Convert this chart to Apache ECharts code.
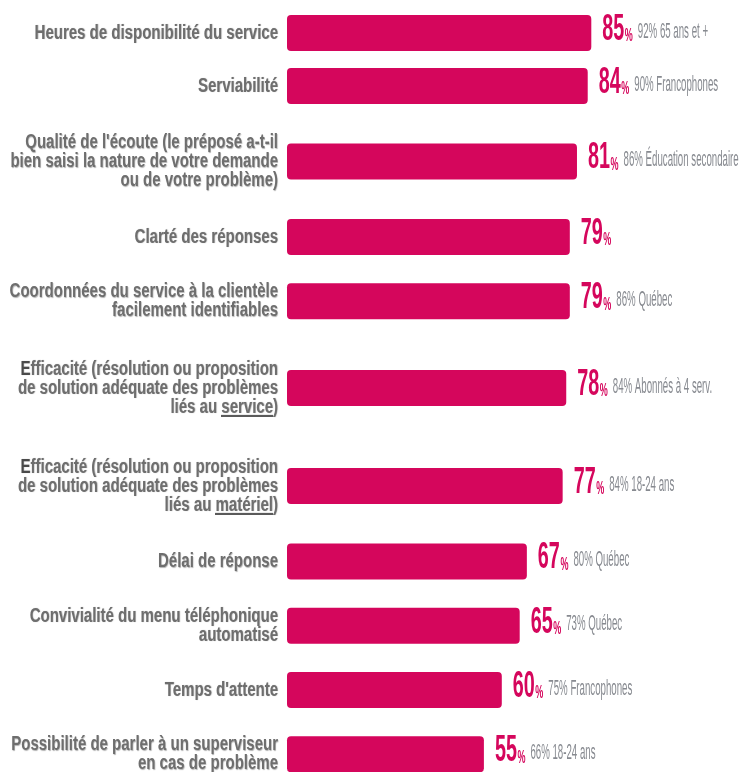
<!DOCTYPE html>
<html>
<head>
<meta charset="utf-8">
<script src="https://cdn.jsdelivr.net/npm/echarts@6/dist/echarts.min.js"></script>
<style>
  html, body { margin: 0; padding: 0; background: #ffffff; }
  #chart { width: 739px; height: 772px; }
</style>
</head>
<body>
<div id="chart"></div>
<script>
// Satisfaction criteria (one per row, line breaks as laid out)
const categories = [
  "Heures de disponibilité du service",
  "Serviabilité",
  "Qualité de l'écoute (le préposé a-t-il\nbien saisi la nature de votre demande\nou de votre problème)",
  "Clarté des réponses",
  "Coordonnées du service à la clientèle\nfacilement identifiables",
  "Efficacité (résolution ou proposition\nde solution adéquate des problèmes\nliés au service)",
  "Efficacité (résolution ou proposition\nde solution adéquate des problèmes\nliés au matériel)",
  "Délai de réponse",
  "Convivialité du menu téléphonique\nautomatisé",
  "Temps d'attente",
  "Possibilité de parler à un superviseur\nen cas de problème"
];

// Overall satisfaction (%)
const scores = [85, 84, 81, 79, 79, 78, 77, 67, 65, 60, 55];

// Highest-scoring subgroup for each criterion
const subgroupNotes = [
  "92% 65 ans et +",
  "90% Francophones",
  "86% Éducation secondaire",
  "",
  "86% Québec",
  "84% Abonnés à 4 serv.",
  "84% 18-24 ans",
  "80% Québec",
  "73% Québec",
  "75% Francophones",
  "66% 18-24 ans"
];

// Word to underline in a criterion label
const underlinedWords = ["", "", "", "", "", "service", "matériel", "", "", "", ""];

const BAR_COLOR = "#d5065c";
const LABEL_COLOR = "#6e6e6e";
const NOTE_COLOR = "#878a90";
const FAMILY = '"Liberation Sans", Arial, sans-serif';

// Row layout: each row grows with the number of label lines
const FIRST_ROW_TOP = 6.5;
const ROW_BASE = 30.5;
const ROW_PER_LINE = 22.5;
const BAR_THICKNESS = 36;
const LABEL_LINE_HEIGHT = 19;

const measureCtx = document.createElement("canvas").getContext("2d");
function textWidth(str, font) {
  measureCtx.font = font;
  return measureCtx.measureText(str).width;
}

// Small image used as the background of underlined words
const underlineImg = document.createElement("canvas");
underlineImg.width = 8;
underlineImg.height = LABEL_LINE_HEIGHT;
(function () {
  const c = underlineImg.getContext("2d");
  c.fillStyle = "#5a5a5a";
  c.fillRect(0, LABEL_LINE_HEIGHT - 2, 8, 2);
})();

const LABEL_FONT = 'bold 20px ' + FAMILY;
const LABEL_SCALE = 0.75;
const NUM_FONT = 'bold 36px ' + FAMILY;
const NUM_SCALE = 0.55;
const PCT_FONT = 'bold 18px ' + FAMILY;
const PCT_SCALE = 0.5;
const NOTE_FONT = '22px ' + FAMILY;
const NOTE_SCALE = 0.44;

const labelShadow = {
  textShadowColor: "rgba(0,0,0,0.3)",
  textShadowBlur: 1,
  textShadowOffsetX: 0.6,
  textShadowOffsetY: 0.6
};

function labelText(row) {
  let out = categories[row];
  const w = underlinedWords[row];
  if (w) {
    const idx = out.lastIndexOf(w);
    out = out.slice(0, idx) + "{u|" + w + "}" + out.slice(idx + w.length);
  }
  if (out.startsWith("Efficacité")) {
    out = "{d|E}" + out.slice(1);
  }
  return out;
}

function makeRowRenderer(row) {
  return function (params, api) {
    const v = api.value(0);
    const start = api.coord([0, 0]);
    const end = api.coord([v, 0]);
    const y = end[1];

    // criterion label, right-aligned against the bar start
    const label = {
      type: "text", x: start[0] - 9, y: y, scaleX: LABEL_SCALE,
      style: Object.assign({
        text: labelText(row), font: LABEL_FONT, fill: LABEL_COLOR,
        lineHeight: LABEL_LINE_HEIGHT, align: "right", verticalAlign: "middle",
        rich: {
          u: Object.assign({ font: LABEL_FONT, fill: LABEL_COLOR, lineHeight: LABEL_LINE_HEIGHT,
                             backgroundColor: { image: underlineImg } }, labelShadow),
          d: Object.assign({ font: LABEL_FONT, fill: "#4a4a4a", lineHeight: LABEL_LINE_HEIGHT }, labelShadow)
        }
      }, labelShadow)
    };

    // value: big number, small percent sign, then subgroup note
    const numText = String(v);
    const x0 = end[0] + 11;
    const numW = textWidth(numText, NUM_FONT) * NUM_SCALE;
    const pctX = x0 + numW + 0.5;
    const pctW = textWidth("%", PCT_FONT) * PCT_SCALE;
    const noteX = pctX + pctW + 5;
    const children = [
      label,
      {
        type: "text", x: x0, y: y - 3, scaleX: NUM_SCALE,
        style: { text: numText, font: NUM_FONT, fill: BAR_COLOR, align: "left", verticalAlign: "middle" }
      },
      {
        type: "text", x: pctX, y: y + 3.5, scaleX: PCT_SCALE,
        style: { text: "%", font: PCT_FONT, fill: BAR_COLOR, align: "left", verticalAlign: "middle" }
      }
    ];
    if (subgroupNotes[row]) {
      children.push({
        type: "text", x: noteX, y: y - 1.5, scaleX: NOTE_SCALE,
        style: { text: subgroupNotes[row], font: NOTE_FONT, fill: NOTE_COLOR, align: "left", verticalAlign: "middle" }
      });
    }
    return { type: "group", children: children };
  };
}

const grids = [], xAxes = [], yAxes = [], series = [];
let rowCursor = FIRST_ROW_TOP;
categories.forEach(function (cat, i) {
  const lines = cat.split("\n").length;
  const rowH = ROW_BASE + ROW_PER_LINE * lines;
  const center = rowCursor + rowH / 2;
  rowCursor += rowH;

  grids.push({
    left: 287, right: 94, top: center - BAR_THICKNESS / 2, height: BAR_THICKNESS,
    containLabel: false, outerBoundsMode: "none"
  });
  xAxes.push({ type: "value", gridIndex: i, min: 0, max: 100, show: false });
  yAxes.push({
    type: "category", gridIndex: i, data: [cat],
    axisLine: { show: false }, axisTick: { show: false }, splitLine: { show: false },
    axisLabel: { show: false }
  });
  series.push({
    type: "bar", xAxisIndex: i, yAxisIndex: i,
    data: [scores[i]], barWidth: BAR_THICKNESS,
    itemStyle: { color: BAR_COLOR, borderRadius: 4 },
    silent: true, animation: false
  });
  series.push({
    type: "custom", xAxisIndex: i, yAxisIndex: i,
    data: [[scores[i], 0]],
    renderItem: makeRowRenderer(i),
    silent: true, animation: false, clip: false
  });
});

const chart = echarts.init(document.getElementById("chart"), null, { renderer: "canvas" });
chart.setOption({
  backgroundColor: "#ffffff",
  animation: false,
  grid: grids,
  xAxis: xAxes,
  yAxis: yAxes,
  series: series
});
</script>
</body>
</html>
